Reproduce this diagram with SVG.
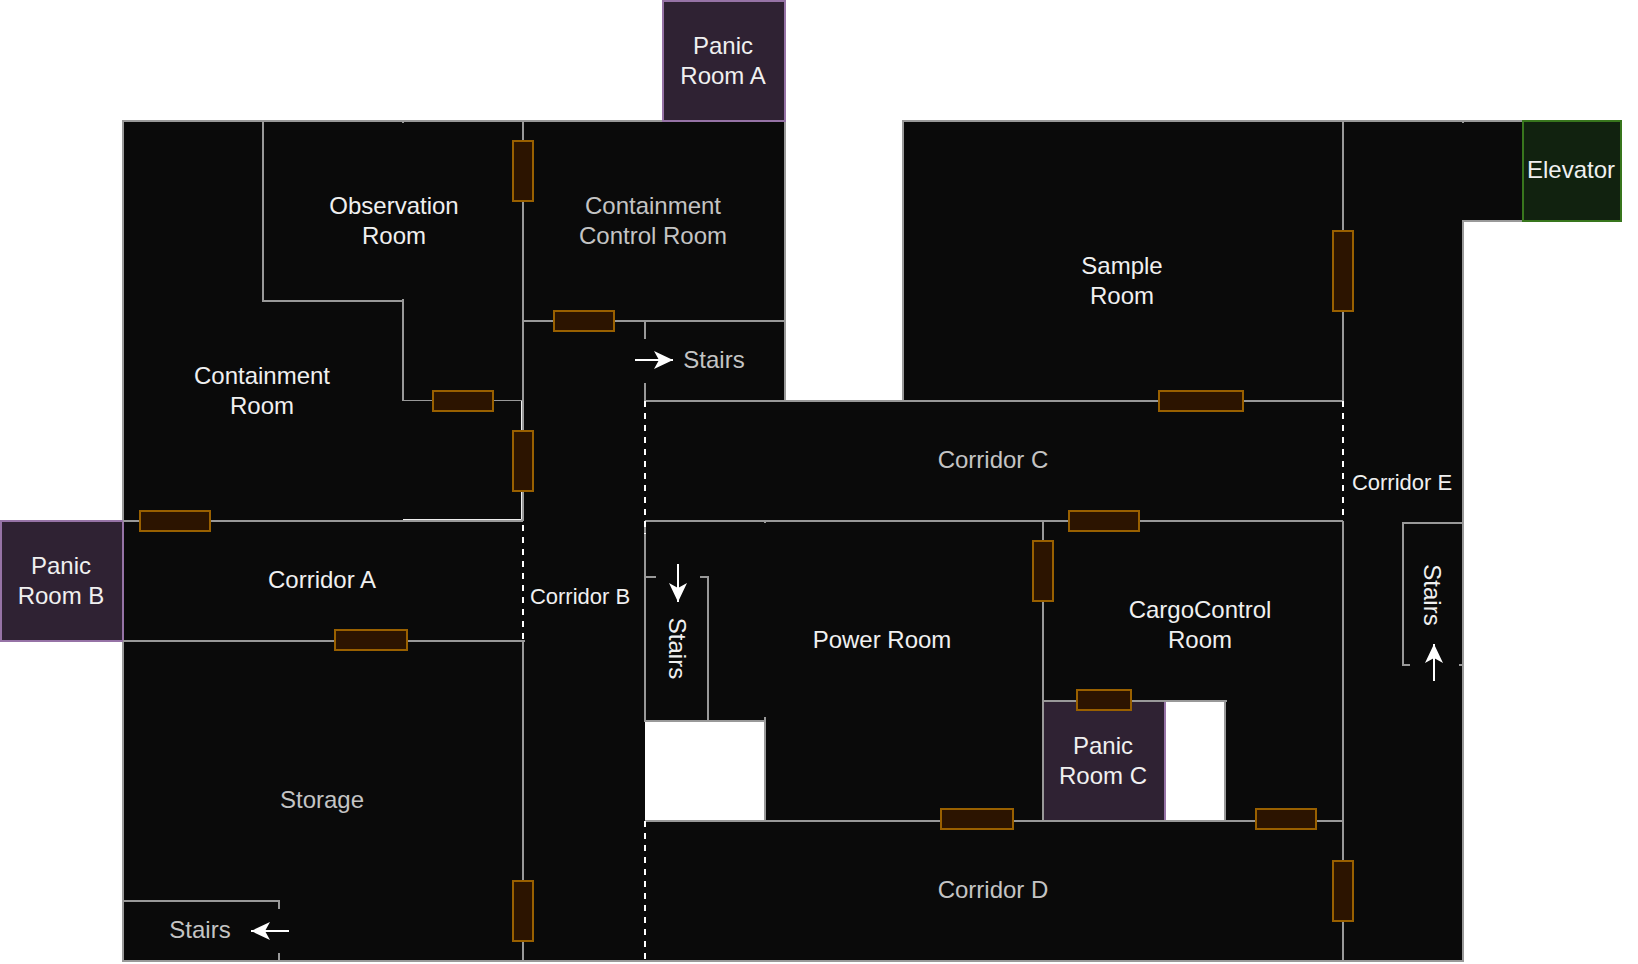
<svg xmlns="http://www.w3.org/2000/svg" width="1638" height="964" viewBox="0 0 1638 964">
<defs>
<marker id="ah" markerUnits="userSpaceOnUse" markerWidth="24" markerHeight="20" refX="19" refY="10" orient="auto"><path d="M0,1 L19,10 L0,19 L5,10 Z" fill="#fff"/></marker>
</defs>
<style>
text{font-family:"Liberation Sans",Arial,sans-serif;font-size:24px;fill:#f0f0f0;text-anchor:middle;dominant-baseline:central}
.g{fill:#c4c4c4}.s{font-size:22px}
.w{fill:none;stroke:#999;stroke-width:2}
.n{fill:none;stroke:#999;stroke-width:1}
.l{fill:none;stroke:#eee;stroke-width:1}
.d{fill:none;stroke:#fff;stroke-width:2;stroke-dasharray:6 6}
.door{fill:#2c1400;stroke:#996000;stroke-width:2}
.a{stroke:#fff;stroke-width:2;fill:none;marker-end:url(#ah)}
.p{fill:#2f2233;stroke:#9673a6;stroke-width:2}
</style>
<rect width="1638" height="964" fill="#fff"/>
<g id="floor">
<path d="M123,121H785V401H903V121H1523V221H1463V961H123Z" fill="#0a0a0a" stroke="#999" stroke-width="2"/>
<rect x="645" y="721" width="120" height="100" fill="#fff"/>
<rect x="1165" y="701" width="60" height="120" fill="#fff"/>
</g>
<g id="panic-room-a"><rect class="p" x="663" y="1" width="122" height="120"/><text x="723" y="45">Panic</text><text x="723" y="75">Room A</text></g>
<g id="panic-room-b"><rect class="p" x="1" y="521" width="122" height="120"/><text x="61" y="565">Panic</text><text x="61" y="595">Room B</text></g>
<g id="panic-room-c"><rect class="p" x="1043" y="701" width="122" height="120"/><text x="1103" y="745">Panic</text><text x="1103" y="775">Room C</text></g>
<g id="elevator"><rect x="1523" y="121" width="98" height="100" fill="#11220f" stroke="#38761d" stroke-width="2"/><text x="1571" y="169">Elevator</text></g>
<g id="walls">
<path class="w" d="M263,121V301H403M403,299V401M403,121V123"/>
<path class="n" d="M403,400.500H523"/>
<path class="w" d="M523,121V521M523,321H785M645,321V339M645,383V401M645,401H1343M645,521H1343"/>
<path class="w" d="M123,521H523M123,641H525M523,641V961"/>
<path class="l" d="M403,519.500H521.500V401"/>
<path class="w" d="M123,901H279V909M279,953V961"/>
<path class="w" d="M645,521V721H765V717M765,721V821M645,821H1343M765,521V523"/>
<path class="w" d="M645,577H656M700,577H708V721"/>
<path class="w" d="M1043,521V821M1043,701H1227M1225,701V821"/>
<path class="w" d="M1343,121V401M1343,521V961M1463,121V123"/>
<path class="w" d="M1463,523H1403V665H1410M1459,665H1463"/>
</g>
<g id="dashed-openings">
<path class="d" d="M523,525V641M645,401V534M645,821V961M1343,401V521"/>
</g>
<g id="doors">
<rect class="door" x="513" y="141" width="20" height="60"/>
<rect class="door" x="554" y="311" width="60" height="20"/>
<rect class="door" x="433" y="391" width="60" height="20"/>
<rect class="door" x="513" y="431" width="20" height="60"/>
<rect class="door" x="140" y="511" width="70" height="20"/>
<rect class="door" x="335" y="630" width="72" height="20"/>
<rect class="door" x="513" y="881" width="20" height="60"/>
<rect class="door" x="1159" y="391" width="84" height="20"/>
<rect class="door" x="1333" y="231" width="20" height="80"/>
<rect class="door" x="1069" y="511" width="70" height="20"/>
<rect class="door" x="1033" y="541" width="20" height="60"/>
<rect class="door" x="1077" y="690" width="54" height="20"/>
<rect class="door" x="941" y="809" width="72" height="20"/>
<rect class="door" x="1256" y="809" width="60" height="20"/>
<rect class="door" x="1333" y="861" width="20" height="60"/>
</g>
<g id="stairs-arrows">
<path class="a" d="M635,360H673"/>
<path class="a" d="M289,931H251"/>
<path class="a" d="M678,564V602"/>
<path class="a" d="M1434,681V644"/>
</g>
<g id="labels">
<text x="394" y="205">Observation</text><text x="394" y="235">Room</text>
<text class="g" x="653" y="205">Containment</text><text class="g" x="653" y="235">Control Room</text>
<text x="262" y="375">Containment</text><text x="262" y="405">Room</text>
<text x="1122" y="265">Sample</text><text x="1122" y="295">Room</text>
<text class="g" x="993" y="459">Corridor C</text>
<text class="s" x="1402" y="482">Corridor E</text>
<text x="322" y="579">Corridor A</text>
<text class="s" x="580" y="596">Corridor B</text>
<text class="g" x="322" y="799">Storage</text>
<text x="882" y="639">Power Room</text>
<text x="1200" y="609">CargoControl</text><text x="1200" y="639">Room</text>
<text class="g" x="993" y="889">Corridor D</text>
<text class="g" x="714" y="359">Stairs</text>
<text class="g" x="200" y="929">Stairs</text>
<text transform="translate(677.500 648.500) rotate(90)">Stairs</text>
<text transform="translate(1432.500 595) rotate(90)">Stairs</text>
</g>
</svg>
